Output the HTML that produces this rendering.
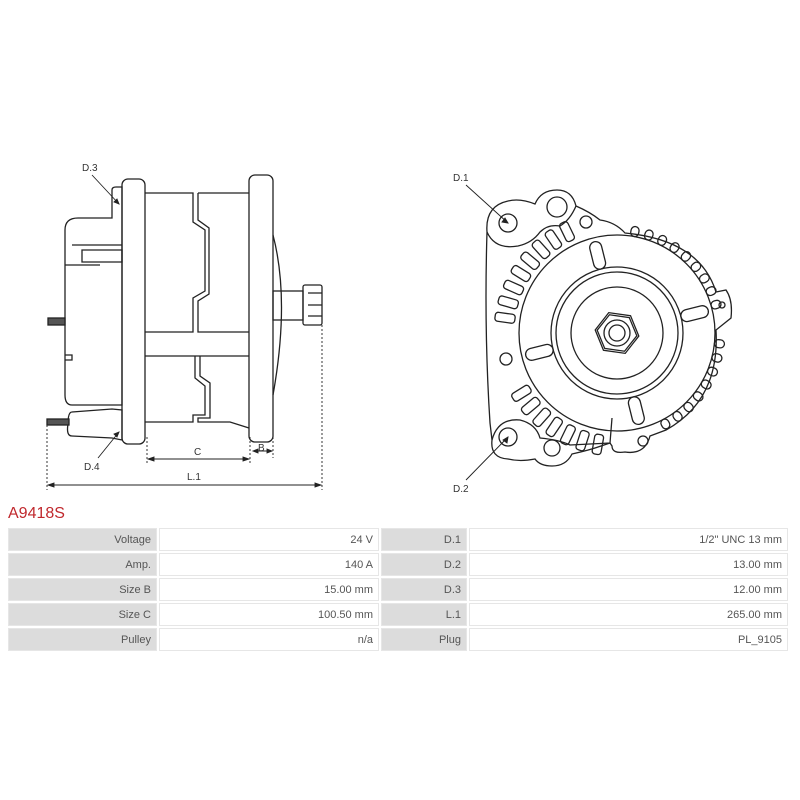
<!DOCTYPE html>
<html><head><meta charset="utf-8"><style>
body{margin:0;width:800px;height:800px;background:#fff;font-family:"Liberation Sans",sans-serif;position:relative;overflow:hidden}
svg{position:absolute;left:0;top:0}
.t{position:absolute;left:6px;top:526px;border-collapse:separate;border-spacing:2px;font-size:11px;color:#555}
.t td{height:21px;padding:0 5px;text-align:right;border:1px solid #e6e6e6}
.l{background:#dcdcdc}
.v{background:#fff}
h1{position:absolute;left:8px;top:505px;margin:0;font-size:16px;font-weight:normal;color:#c0282d}
</style></head><body>
<svg width="800" height="500" viewBox="0 0 800 500" fill="none" stroke="#222" stroke-width="1.3">
<path d="M65 230 Q65 218 78 218 L112 218 L112 190 Q112 187 116 187 L122 187 L122 405 L72 405 Q65 405 65 395 Z"/>
<path d="M72 245 L122 245 M82 250 L122 250 L122 262 L82 262 Z M65 265 L100 265"/>
<path d="M65 355 L72 355 L72 360 L65 360"/>
<rect x="122" y="179" width="23" height="265" rx="6"/>
<rect x="249" y="175" width="24" height="267" rx="6"/>
<path d="M145 193 L193 193 L193 222 L205 230 L205 291 L193 298 L193 332 L145 332"/>
<path d="M198 193 L249 193 M198 193 L198 220 L209 228 L209 294 L198 301 L198 332 L249 332"/>
<path d="M145 356 L249 356 M145 422 L193 422 L193 415 L205 415 L205 386 L195 378 L195 356 M200 356 L200 376 L210 383 L210 418 L198 418 L198 422 L230 422 L249 428"/>
<path d="M273 235 Q290 300 273 395"/>
<rect x="273" y="291" width="30" height="29"/>
<rect x="303" y="285" width="19" height="40" rx="2"/>
<path d="M308 293 L322 293 M308 305 L322 305 M308 316 L322 316"/>
<rect x="48" y="318" width="17" height="7" fill="#555"/>
<path d="M72 412 L112 409 L122 410 L122 440 L112 438 L72 436 Q66 436 68 424 Q68 412 72 412 Z"/>
<rect x="47" y="419" width="22" height="6" fill="#555"/>
<g stroke-width="0.9" stroke-dasharray="2,2"><path d="M147 437 V465 M250 437 V465 M273 437 V458 M47 425 V490 M322 325 V490"/></g>
<g stroke-width="0.9"><path d="M148 459 H249 M253 451 H272 M48 485 H321"/>
<path d="M148 459 l6 -2 v4 z M249 459 l-6 -2 v4 z M48 485 l6 -2 v4 z M321 485 l-6 -2 v4 z M253 451 l5 -2 v4z M272 451 l-5 -2 v4z" fill="#222"/>
<path d="M92 175 L119 204 M98 458 L119 432"/>
<path d="M119 204 l-5 -2 l3 -3 z M119 432 l-2 5 l-3 -3 z" fill="#222"/></g>
<path d="M487 232 Q485 206 508 201 Q520 198 535 204 Q541 190 557 190 Q572 190 576 206 Q590 212 600 220 Q615 222 625 233 Q700 240 716 292 L726 290 Q733 300 731 318 L716 330 Q720 400 666 430 L650 436 Q645 455 625 452 Q612 454 612 446 L610 443 L601 446 Q590 450 572 454 Q566 466 552 466 Q540 466 535 459 Q520 462 508 459 Q490 458 492 440 L490 423 Q484 330 487 232 Z"/>
<path d="M487 232 Q495 250 518 246 Q532 243 540 232 Q548 224 560 226 Q570 220 576 206"/>
<path d="M492 440 Q498 418 520 420 Q536 424 540 438 Q560 440 570 445 L610 443 L612 418"/>
<circle cx="508" cy="223" r="9"/><circle cx="557" cy="207" r="10"/><circle cx="586" cy="222" r="6"/>
<circle cx="508" cy="437" r="9"/><circle cx="552" cy="448" r="8"/><circle cx="643" cy="441" r="5"/>
<circle cx="506" cy="359" r="6"/><circle cx="722" cy="305" r="3"/>
<circle cx="617" cy="333" r="98"/>
<circle cx="617" cy="333" r="66"/><circle cx="617" cy="333" r="61"/><circle cx="617" cy="333" r="46"/>
<polygon points="639,333 628,352 606,352 595,333 606,314 628,314" transform="rotate(8 617 333)"/>
<polygon points="637,333 627,350 607,350 597,333 607,316 627,316" transform="rotate(8 617 333)"/>
<circle cx="617" cy="333" r="13"/><circle cx="617" cy="333" r="8"/>
<g>
<rect x="683" y="327" width="28" height="12" rx="6" transform="rotate(-104 617 333)"/>
<rect x="683" y="327" width="28" height="12" rx="6" transform="rotate(-14 617 333)"/>
<rect x="683" y="327" width="28" height="12" rx="6" transform="rotate(76 617 333)"/>
<rect x="683" y="327" width="28" height="12" rx="6" transform="rotate(166 617 333)"/>
</g>
<g>
<rect x="715" y="329" width="10" height="8" rx="4" transform="rotate(-80 617 333)"/>
<rect x="715" y="329" width="10" height="8" rx="4" transform="rotate(-72 617 333)"/>
<rect x="715" y="329" width="10" height="8" rx="4" transform="rotate(-64 617 333)"/>
<rect x="715" y="329" width="10" height="8" rx="4" transform="rotate(-56 617 333)"/>
<rect x="715" y="329" width="10" height="8" rx="4" transform="rotate(-48 617 333)"/>
<rect x="715" y="329" width="10" height="8" rx="4" transform="rotate(-40 617 333)"/>
<rect x="715" y="329" width="10" height="8" rx="4" transform="rotate(-32 617 333)"/>
<rect x="715" y="329" width="10" height="8" rx="4" transform="rotate(-24 617 333)"/>
<rect x="715" y="329" width="10" height="8" rx="4" transform="rotate(-16 617 333)"/>
<rect x="715" y="329" width="10" height="8" rx="4" transform="rotate(6 617 333)"/>
<rect x="715" y="329" width="10" height="8" rx="4" transform="rotate(14 617 333)"/>
<rect x="715" y="329" width="10" height="8" rx="4" transform="rotate(22 617 333)"/>
<rect x="715" y="329" width="10" height="8" rx="4" transform="rotate(30 617 333)"/>
<rect x="715" y="329" width="10" height="8" rx="4" transform="rotate(38 617 333)"/>
<rect x="715" y="329" width="10" height="8" rx="4" transform="rotate(46 617 333)"/>
<rect x="715" y="329" width="10" height="8" rx="4" transform="rotate(54 617 333)"/>
<rect x="715" y="329" width="10" height="8" rx="4" transform="rotate(62 617 333)"/>
</g>
<g>
<rect x="720" y="328" width="20" height="9" rx="3" transform="rotate(188 617 333)"/>
<rect x="720" y="328" width="20" height="9" rx="3" transform="rotate(196 617 333)"/>
<rect x="720" y="328" width="20" height="9" rx="3" transform="rotate(204 617 333)"/>
<rect x="720" y="328" width="20" height="9" rx="3" transform="rotate(212 617 333)"/>
<rect x="720" y="328" width="20" height="9" rx="3" transform="rotate(220 617 333)"/>
<rect x="720" y="328" width="20" height="9" rx="3" transform="rotate(228 617 333)"/>
<rect x="720" y="328" width="20" height="9" rx="3" transform="rotate(236 617 333)"/>
<rect x="720" y="328" width="20" height="9" rx="3" transform="rotate(244 617 333)"/>
<rect x="720" y="328" width="20" height="9" rx="3" transform="rotate(148 617 333)"/>
<rect x="720" y="328" width="20" height="9" rx="3" transform="rotate(140 617 333)"/>
<rect x="720" y="328" width="20" height="9" rx="3" transform="rotate(132 617 333)"/>
<rect x="720" y="328" width="20" height="9" rx="3" transform="rotate(124 617 333)"/>
<rect x="720" y="328" width="20" height="9" rx="3" transform="rotate(116 617 333)"/>
<rect x="720" y="328" width="20" height="9" rx="3" transform="rotate(108 617 333)"/>
<rect x="720" y="328" width="20" height="9" rx="3" transform="rotate(100 617 333)"/>
</g>
<g stroke-width="0.9"><path d="M466 185 L508 223 M466 480 L508 437"/>
<path d="M508 223 l-6 -1 l3 -4z M508 437 l-1 6 l-4 -3z" fill="#222"/></g>
<g fill="#333" stroke="none" font-size="10" font-family="Liberation Sans, sans-serif">
<text x="82" y="171">D.3</text><text x="84" y="470">D.4</text>
<text x="194" y="455">C</text><text x="258" y="451">B</text><text x="187" y="480">L.1</text>
<text x="453" y="181">D.1</text><text x="453" y="492">D.2</text>
</g>
</svg>
<h1>A9418S</h1>
<table class="t">
<tr><td class="l" style="width:137px">Voltage</td><td class="v" style="width:208px">24 V</td><td class="l" style="width:74px">D.1</td><td class="v" style="width:307px">1/2" UNC 13 mm</td></tr>
<tr><td class="l">Amp.</td><td class="v">140 A</td><td class="l">D.2</td><td class="v">13.00 mm</td></tr>
<tr><td class="l">Size B</td><td class="v">15.00 mm</td><td class="l">D.3</td><td class="v">12.00 mm</td></tr>
<tr><td class="l">Size C</td><td class="v">100.50 mm</td><td class="l">L.1</td><td class="v">265.00 mm</td></tr>
<tr><td class="l">Pulley</td><td class="v">n/a</td><td class="l">Plug</td><td class="v">PL_9105</td></tr>
</table>
</body></html>
